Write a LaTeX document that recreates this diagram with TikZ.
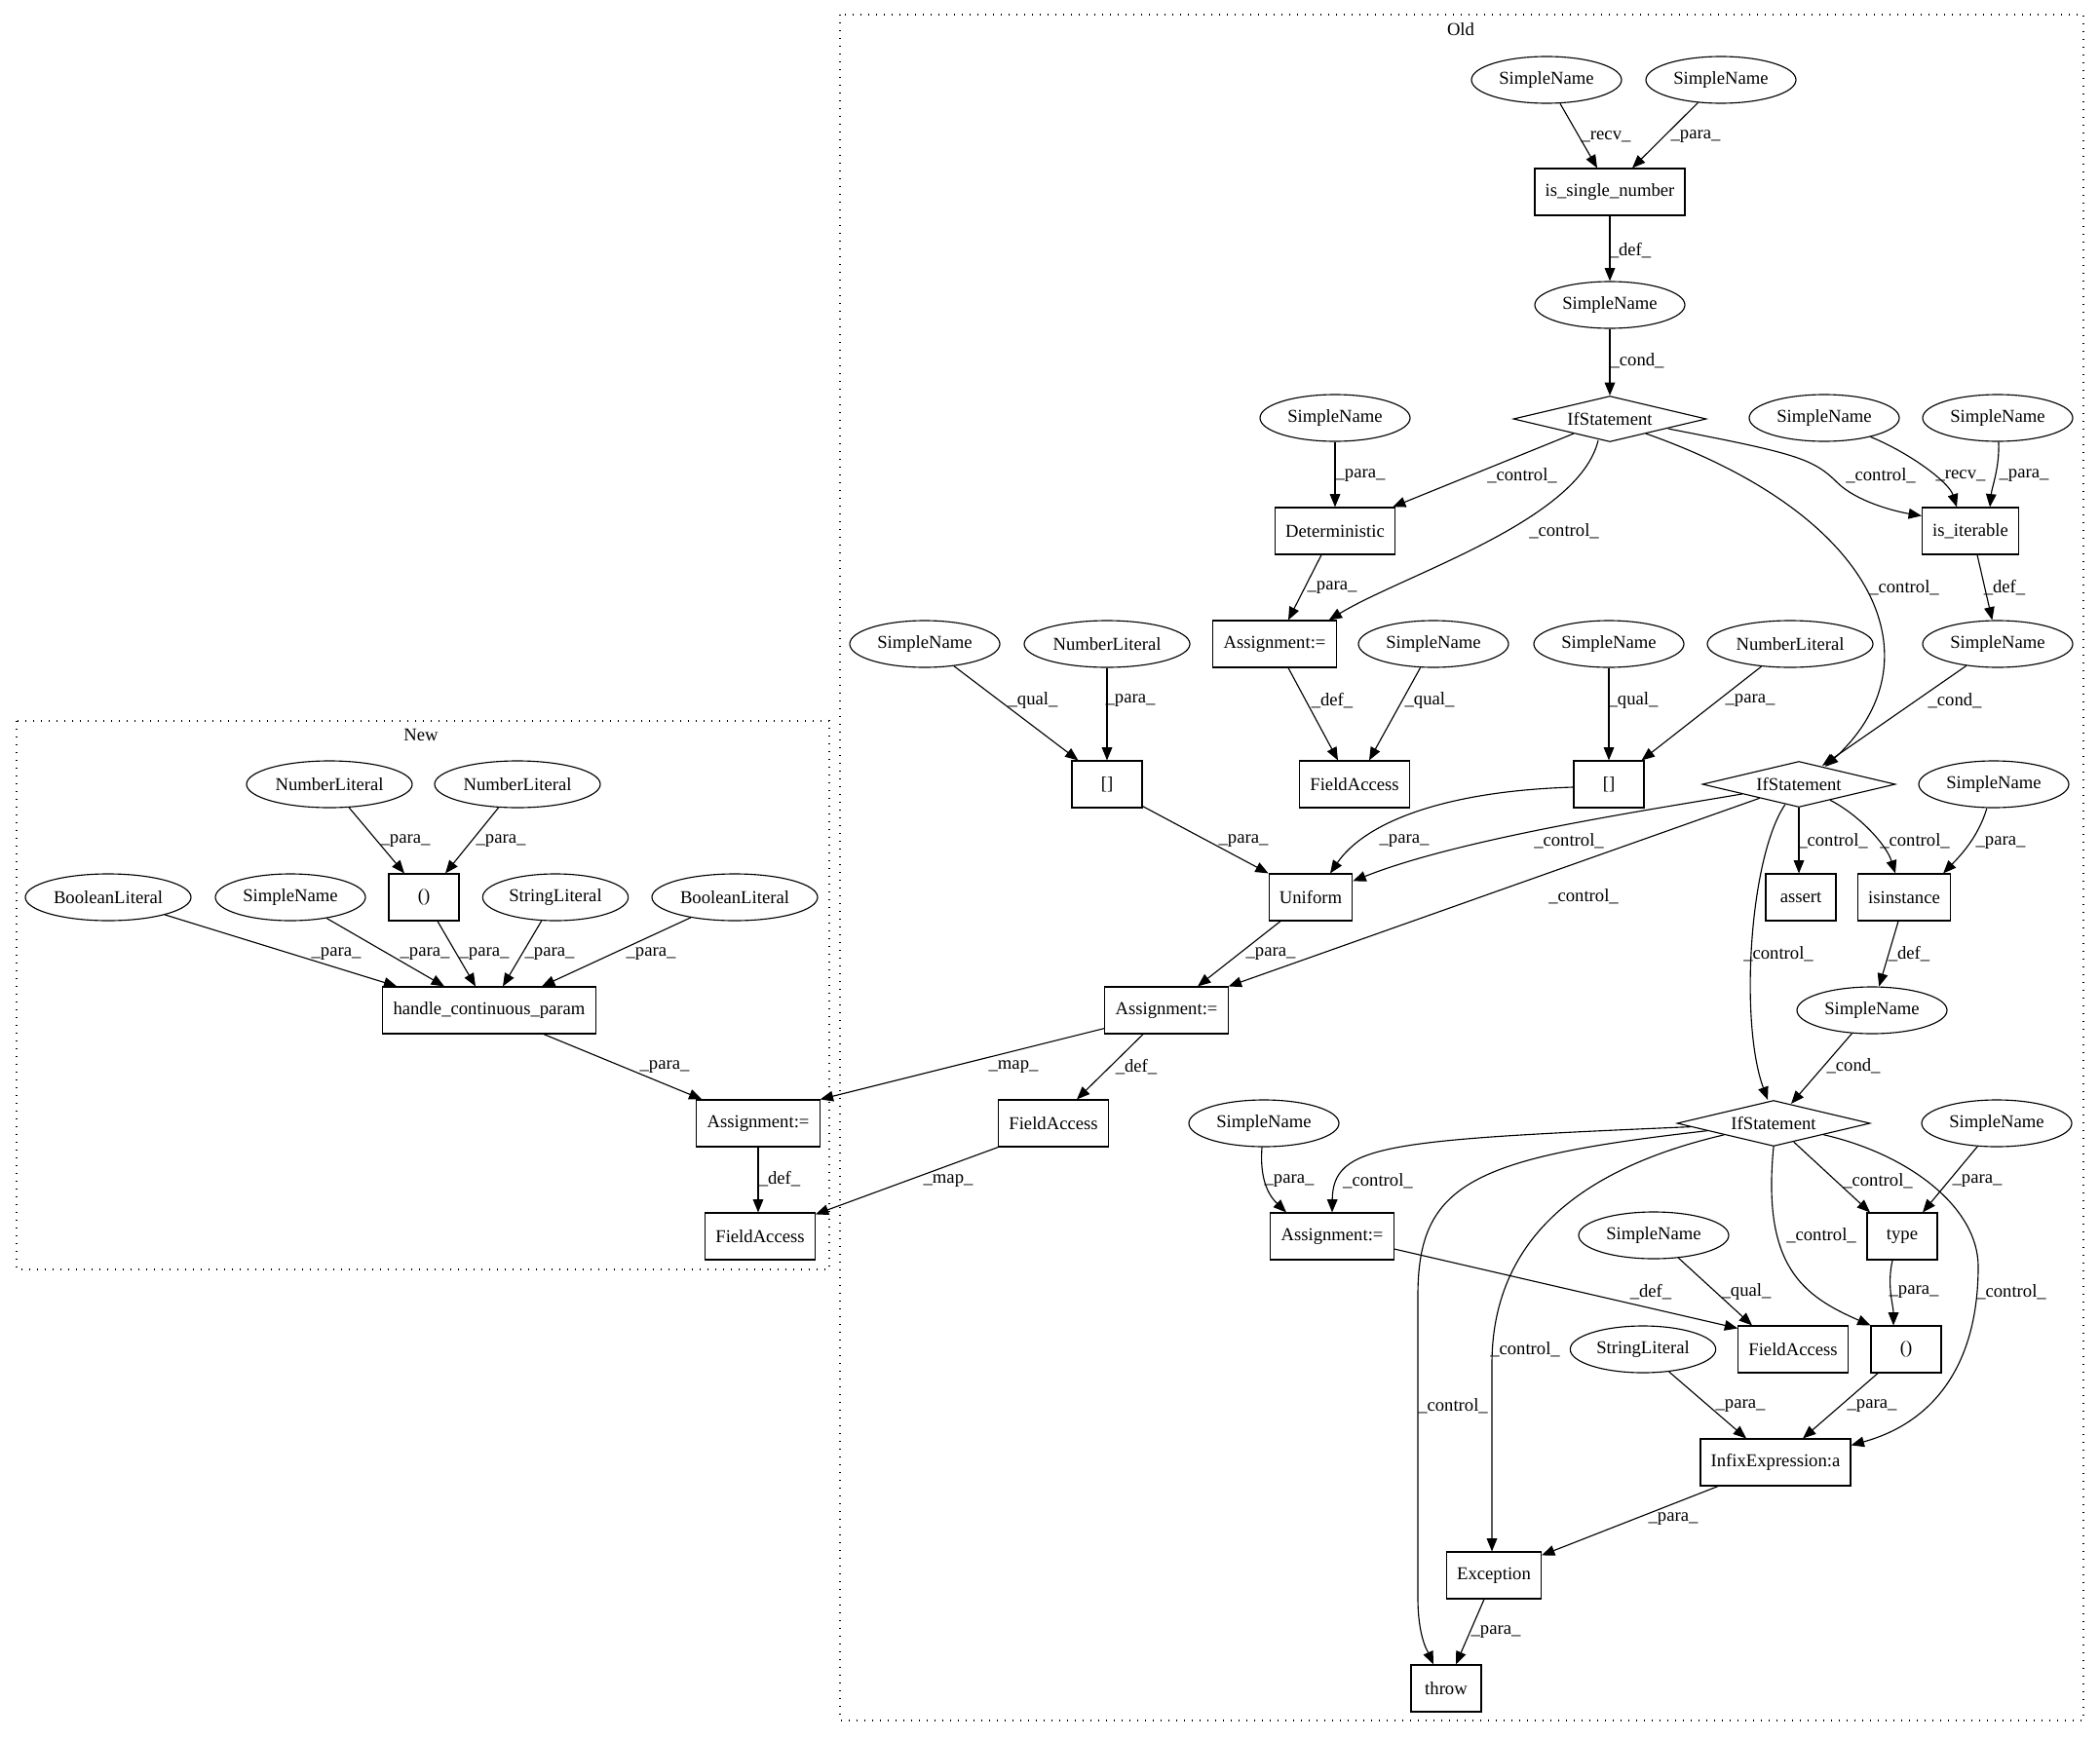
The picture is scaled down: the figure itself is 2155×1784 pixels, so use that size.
\documentclass[tikz,border=0pt]{standalone}
\usepackage{fontspec}
\setmainfont{Liberation Serif}
\usetikzlibrary{shapes.geometric,arrows.meta,calc}
\begin{document}
\begin{tikzpicture}[x=0.75pt,y=-0.75pt,
  every node/.style={font=\fontsize{14pt}{16pt}\selectfont},
  box/.style={draw, rectangle, line width=0.85pt, minimum width=54pt, minimum height=36pt, inner xsep=8pt, inner ysep=0pt},
  ell/.style={draw, ellipse, line width=0.85pt, minimum height=36pt, inner sep=0pt, minimum width=115.5pt},
  ellN/.style={ell, minimum width=127.5pt},
  ellS/.style={ell, minimum width=112pt},
  ifs/.style={draw, diamond, shape aspect=4, inner sep=0pt, line width=0.85pt, minimum width=148.5pt, minimum height=35.25pt},
  edg/.style={draw, line width=0.85pt, -{Triangle[length=10pt,width=8pt]}},
  lab/.style={inner sep=0pt},
  clus/.style={line width=1pt, dash pattern=on 1pt off 5pt}]
\useasboundingbox (0,0) rectangle (2155,1784);

% clusters
\draw[clus] (862,15) rectangle (2138,1766);
\draw[clus] (17,740) rectangle (851,1303);
\node (lold) at (1499,30) {Old};
\node (lnew) at (432,754) {New};

% Old nodes
\node[ell] (sn1) at (1587,82) {SimpleName};
\node[ell] (sn2) at (1766,82) {SimpleName};
\node[box] (isn) at (1652,197) {is\_single\_number};
\node[ell] (sn3) at (1652,313) {SimpleName};
\node[ifs] (if1) at (1652,430) {IfStatement};
\node[ell] (sn4) at (1370,429) {SimpleName};
\node[box] (det) at (1370,545) {Deterministic};
\node[ell] (sn5) at (1872,429) {SimpleName};
\node[ell] (sn6) at (2050,429) {SimpleName};
\node[box] (isit) at (2022,545) {is\_iterable};
\node[box] (asg1) at (1308,661) {Assignment:=};
\node[ell] (sn7) at (1471,661) {SimpleName};
\node[ell] (sn8) at (2050,661) {SimpleName};
\node[ell] (sn9) at (949,661) {SimpleName};
\node[ellN] (nl1) at (1136,661) {NumberLiteral};
\node[ell] (sn10) at (1651,661) {SimpleName};
\node[ellN] (nl2) at (1837,661) {NumberLiteral};
\node[box] (fa1) at (1390,805) {FieldAccess};
\node[box] (br1) at (1136,805) {[]};
\node[box] (br2) at (1651,805) {[]};
\node[ifs] (if2) at (1846,805) {IfStatement};
\node[ell] (sn11) at (2046,805) {SimpleName};
\node[box] (uni) at (1345,921) {Uniform};
\node[box] (asrt) at (1848,921) {assert};
\node[box] (isin) at (1954,921) {isinstance};
\node[box] (asg2) at (1197,1037) {Assignment:=};
\node[ell] (sn12) at (1921,1037) {SimpleName};
\node[box] (fa2) at (1081,1153) {FieldAccess};
\node[ifs] (if3) at (1820,1153) {IfStatement};
\node[ell] (sn13) at (1297,1153) {SimpleName};
\node[ell] (sn14) at (2049,1153) {SimpleName};
\node[box] (asg3) at (1367,1269) {Assignment:=};
\node[box] (typ) at (1952,1269) {type};
\node[ell] (sn15) at (1697,1268) {SimpleName};
\node[box] (fa3) at (1840,1385) {FieldAccess};
\node[box] (par3) at (1956,1385) {()};
\node[ellS] (strl) at (1686,1385) {StringLiteral};
\node[box] (infix) at (1822,1501) {InfixExpression:a};
\node[box] (exc) at (1533,1617) {Exception};
\node[box] (thr) at (1484,1733) {throw};

% New nodes
\node[ellN] (nla) at (338,805) {NumberLiteral};
\node[ellN] (nlb) at (531,805) {NumberLiteral};
\node[box] (parn) at (435,921) {()};
\node[ellN] (bla) at (111,921) {BooleanLiteral};
\node[ell] (snn) at (298,921) {SimpleName};
\node[ellS] (strn) at (570,921) {StringLiteral};
\node[ellN] (blb) at (754,921) {BooleanLiteral};
\node[box] (hcp) at (502,1037) {handle\_continuous\_param};
\node[box] (asgn) at (778,1153) {Assignment:=};
\node[box] (fan) at (780,1269) {FieldAccess};

% Old edges
\draw[edg] (sn1) -- ($(isn.north)+(-13,0)$);
\node[lab] (l1) at (1648,140) {\_recv\_};
\draw[edg] (sn2) -- ($(isn.north)+(23,0)$);
\node[lab] (l2) at (1740,140) {\_para\_};
\draw[edg] (isn) -- (sn3);
\node[lab] (l3) at (1673,257) {\_def\_};
\draw[edg] (sn3) -- (if1);
\node[lab] (l4) at (1680,370) {\_cond\_};
\draw[edg] (sn4) -- (det);
\node[lab] (l5) at (1396,488) {\_para\_};
\draw[edg] (if1) -- ($(det.north east)+(-3,0)$);
\node[lab] (l6) at (1562,488) {\_control\_};
\draw[edg] ($(if1.south)+(-12,-2)$) .. controls (1620,535) and (1440,590) .. ($(asg1.north east)+(-8,0)$);
\node[lab] (l7) at (1605,545) {\_control\_};
\draw[edg] ($(if1.south)+(37,-9)$) .. controls (1930,530) and (1990,680) .. ($(if2.north)+(27,6)$);
\node[lab] (l8) at (1954,603) {\_control\_};
\draw[edg] ($(if1.south)+(60,-14)$) .. controls (1840,465) and (1860,470) .. (1885,495) .. controls (1905,515) and (1945,525) .. ($(isit.north west)+(0,9)$);
\node[lab] (l9) at (1930,488) {\_control\_};
\draw[edg] (sn5) .. controls (1960,465) and (2000,495) .. ($(isit.north)+(-14,0)$);
\node[lab] (l10) at (2012,488) {\_recv\_};
\draw[edg] (sn6) .. controls (2052,480) and (2044,500) .. ($(isit.north)+(20,0)$);
\node[lab] (l11) at (2077,488) {\_para\_};
\draw[edg] ($(det.south)+(-14,0)$) -- ($(asg1.north)+(14,0)$);
\node[lab] (l12) at (1367,603) {\_para\_};
\draw[edg] ($(isit.south)+(7,0)$) -- (sn8);
\node[lab] (l13) at (2057,603) {\_def\_};
\draw[edg] ($(asg1.south)+(14,0)$) -- ($(fa1.north)+(-17,0)$);
\node[lab] (l14) at (1367,719) {\_def\_};
\draw[edg] (sn7) -- ($(fa1.north)+(15,0)$);
\node[lab] (l15) at (1467,719) {\_qual\_};
\draw[edg] (sn10) -- (br2);
\node[lab] (l16) at (1676,719) {\_qual\_};
\draw[edg] (nl2) -- ($(br2.north east)+(-3,0)$);
\node[lab] (l17) at (1796,719) {\_para\_};
\draw[edg] (sn8) -- ($(if2.north)+(24,5)$);
\node[lab] (l18) at (2006,719) {\_cond\_};
\draw[edg] (sn9) -- ($(br1.north west)+(7,0)$);
\node[lab] (l19) at (1060,719) {\_qual\_};
\draw[edg] (nl1) -- (br1);
\node[lab] (l20) at (1160,719) {\_para\_};
\draw[edg] ($(br1.south east)+(0,-2)$) -- (uni.north west);
\node[lab] (l21) at (1276,863) {\_para\_};
\draw[edg] ($(br2.west)+(0,3)$) .. controls (1480,812) and (1400,845) .. ($(uni.north)+(20,0)$);
\node[lab] (l22) at (1441,863) {\_para\_};
\draw[edg] (if2) .. controls (1700,830) and (1500,860) .. ($(uni.north east)+(0,8)$);
\node[lab] (l23) at (1610,863) {\_control\_};
\draw[edg] (if2) -- (asg2.north east);
\node[lab] (l24) at (1625,920) {\_control\_};
\draw[edg] ($(uni.south)+(-31,0)$) -- ($(asg2.north)+(32,0)$);
\node[lab] (l25) at (1304,979) {\_para\_};
\draw[edg] ($(asg2.south west)+(0,-6)$) -- (asgn.north east);
\node[lab] (l26) at (1040,1095) {\_map\_};
\draw[edg] ($(asg2.south)+(-24,0)$) -- ($(fa2.north)+(24,0)$);
\node[lab] (l27) at (1166,1095) {\_def\_};
\draw[edg] (fa2.south west) -- ($(fan.north east)+(0,2)$);
\node[lab] (l28) at (973,1212) {\_map\_};
\draw[edg] (if2.south) -- (if2.south |- asrt.north);
\node[lab] (l29) at (1881,863) {\_control\_};
\draw[edg] (if2) .. controls (1905,835) and (1935,865) .. ($(isin.north)+(-9,0)$);
\node[lab] (l30) at (1965,863) {\_control\_};
\draw[edg] (sn11) .. controls (2030,860) and (2010,880) .. ($(isin.north east)+(-8,0)$);
\node[lab] (l31) at (2053,865) {\_para\_};
\draw[edg] (if2) .. controls (1795,880) and (1785,1050) .. ($(if3.north)+(-6,0)$);
\node[lab] (l32) at (1825,979) {\_control\_};
\draw[edg] ($(isin.south)+(-6,0)$) -- (sn12);
\node[lab] (l33) at (1959,979) {\_def\_};
\draw[edg] (sn12) -- ($(if3.north)+(18,4)$);
\node[lab] (l34) at (1902,1094) {\_cond\_};
\draw[edg] (sn13) .. controls (1292,1215) and (1305,1230) .. ($(asg3.north)+(-47,0)$);
\node[lab] (l35) at (1323,1212) {\_para\_};
\draw[edg] (if3) .. controls (1420,1170) and (1368,1175) .. (asg3.north);
\node[lab] (l36) at (1414,1212) {\_control\_};
\draw[edg] (if3) .. controls (1510,1188) and (1455,1215) .. (1455,1330) -- (1455,1640) .. controls (1455,1680) and (1465,1695) .. ($(thr.north)+(-13,0)$);
\node[lab] (l37) at (1491,1443) {\_control\_};
\draw[edg] (if3) .. controls (1640,1195) and (1531,1260) .. (1531,1400) -- ($(exc.north)+(-2,0)$);
\node[lab] (l38) at (1565,1385) {\_control\_};
\draw[edg] (if3.south) .. controls (1808,1300) and (1850,1330) .. (par3.north west);
\node[lab] (l39) at (1869,1268) {\_control\_};
\draw[edg] (if3) -- ($(typ.north)+(-33,0)$);
\node[lab] (l40) at (1927,1212) {\_control\_};
\draw[edg] (sn14) -- ($(typ.north)+(21,0)$);
\node[lab] (l41) at (2029,1212) {\_para\_};
\draw[edg] (if3) .. controls (1960,1185) and (2030,1240) .. (2030,1300) .. controls (2030,1400) and (1985,1460) .. ($(infix.north east)+(0,7)$);
\node[lab] (l42) at (2064,1326) {\_control\_};
\draw[edg] ($(asg3.east)+(0,13)$) -- ($(fa3.north west)+(0,3)$);
\node[lab] (l43) at (1694,1326) {\_def\_};
\draw[edg] (sn15) -- ($(fa3.north)+(-42,0)$);
\node[lab] (l44) at (1792,1326) {\_qual\_};
\draw[edg] ($(typ.south)+(-10,0)$) .. controls (1936,1320) and (1943,1340) .. ($(par3.north)+(-13,0)$);
\node[lab] (l45) at (1964,1326) {\_para\_};
\draw[edg] (strl) -- ($(infix.north)+(-30,0)$);
\node[lab] (l46) at (1786,1443) {\_para\_};
\draw[edg] ($(par3.south)+(-29,0)$) -- ($(infix.north)+(28,0)$);
\node[lab] (l47) at (1921,1443) {\_para\_};
\draw[edg] ($(infix.south)+(-59,0)$) -- ($(exc.north east)+(0,4)$);
\node[lab] (l48) at (1717,1559) {\_para\_};
\draw[edg] ($(exc.south)+(-10,0)$) -- ($(thr.north)+(10,0)$);
\node[lab] (l49) at (1535,1675) {\_para\_};

% New edges
\draw[edg] (nla) -- ($(parn.north)+(-20,0)$);
\node[lab] (l50) at (416,863) {\_para\_};
\draw[edg] (nlb) -- ($(parn.north)+(22,0)$);
\node[lab] (l51) at (514,863) {\_para\_};
\draw[edg] (bla) -- ($(hcp.north west)+(15,0)$);
\node[lab] (l52) at (345,979) {\_para\_};
\draw[edg] (snn) -- ($(hcp.north)+(-46,0)$);
\node[lab] (l53) at (436,979) {\_para\_};
\draw[edg] ($(parn.south)+(14,0)$) -- ($(hcp.north)+(-14,0)$);
\node[lab] (l54) at (497,979) {\_para\_};
\draw[edg] (strn) -- ($(hcp.north)+(14,0)$);
\node[lab] (l55) at (564,979) {\_para\_};
\draw[edg] (blb) -- ($(hcp.north)+(54,0)$);
\node[lab] (l56) at (668,979) {\_para\_};
\draw[edg] ($(hcp.south)+(56,0)$) -- ($(asgn.north west)+(6,0)$);
\node[lab] (l57) at (682,1095) {\_para\_};
\draw[edg] (asgn) -- (asgn |- fan.north);
\node[lab] (l58) at (800,1210) {\_def\_};
\end{tikzpicture}
\end{document}
